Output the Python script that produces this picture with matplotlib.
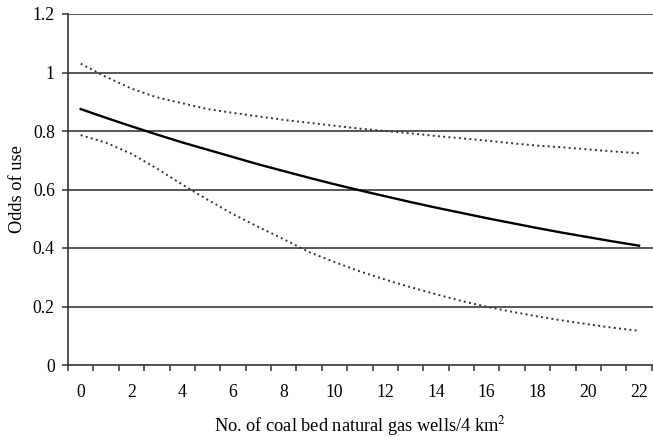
import matplotlib
matplotlib.use("Agg")
import matplotlib.pyplot as plt
import numpy as np

wells = list(range(0, 23))
odds = [0.875, 0.845, 0.816, 0.788, 0.761, 0.736, 0.711, 0.686, 0.663, 0.640,
        0.618, 0.597, 0.577, 0.557, 0.538, 0.520, 0.502, 0.485, 0.468, 0.452,
        0.437, 0.422, 0.408]
upper = [1.030, 0.985, 0.945, 0.915, 0.895, 0.875, 0.862, 0.850, 0.838, 0.828,
         0.818, 0.808, 0.800, 0.792, 0.783, 0.775, 0.767, 0.758, 0.750, 0.744,
         0.737, 0.730, 0.724]
lower = [0.786, 0.760, 0.722, 0.672, 0.617, 0.565, 0.516, 0.472, 0.430, 0.386,
         0.352, 0.320, 0.292, 0.266, 0.242, 0.219, 0.199, 0.182, 0.166, 0.152,
         0.139, 0.127, 0.117]
x_labels = [str(v) for v in range(0, 23, 2)]
y_ticks = [0, 0.2, 0.4, 0.6, 0.8, 1, 1.2]
y_labels = ["0", "0.2", "0.4", "0.6", "0.8", "1", "1.2"]

plt.rcParams['font.family'] = ['Liberation Serif', 'DejaVu Serif']
plt.rcParams['mathtext.fontset'] = 'stix'

fig = plt.figure(figsize=(6.53, 4.38), dpi=100)
ax = fig.add_axes([68/653, 1-365/438, 1-68/653, (365-14)/438])

for yv in y_ticks[1:]:
    ax.axhline(yv, color='#3a3a3a', lw=1.2, zorder=1)

ax.plot(wells, upper, color='#333333', lw=1.4, linestyle=(0, (1, 1.7)), zorder=2)
ax.plot(wells, lower, color='#333333', lw=1.4, linestyle=(0, (1, 1.7)), zorder=2)
ax.plot(wells, odds, color='black', lw=1.7, zorder=3)

ax.set_xlim(-0.5, 22.55)
ax.set_ylim(0, 1.2)
ax.set_yticks(y_ticks)
ax.set_yticklabels(y_labels, fontsize=12.7)
ax.set_xticks(list(range(0, 23, 2)))
ax.set_xticklabels(x_labels, fontsize=12.7)
ax.set_xticks([v + 0.5 for v in range(-1, 23)], minor=True)
ax.tick_params(axis='x', which='major', length=0, pad=14)
ax.tick_params(axis='x', which='minor', length=4, width=1.1, color='#333333', direction='out')
ax.tick_params(axis='y', length=4, width=1.1, color='#333333', direction='out', pad=5.5)

for s in ['top', 'right']:
    ax.spines[s].set_visible(False)
for s in ['left', 'bottom']:
    ax.spines[s].set_color('#333333')
    ax.spines[s].set_linewidth(1.2)

ax.set_ylabel("Odds of use", fontsize=13.2, labelpad=5)
ax.set_xlabel("No. of coal bed natural gas wells/4 km$^{2}$", fontsize=13.2, labelpad=9)

fig.savefig("out.png", dpi=100)
